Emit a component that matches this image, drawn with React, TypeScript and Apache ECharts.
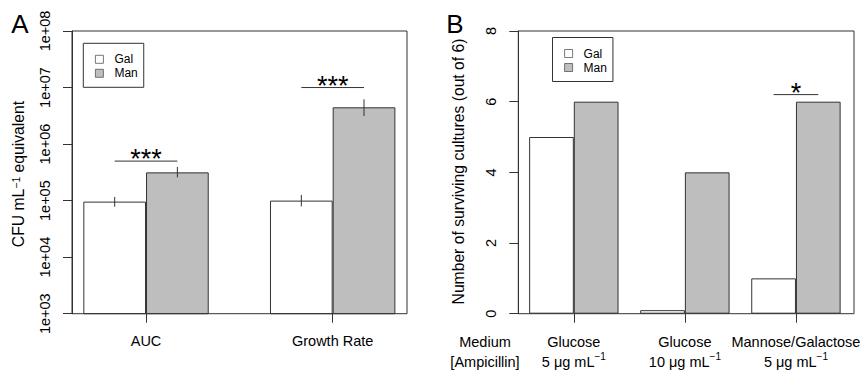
import React, { useEffect, useRef } from 'react';
import * as echarts from 'echarts';

// ---------- Data: panel A ----------
const metricsA = ['AUC', 'Growth Rate'];
const galA = [9.6e4, 1.0e5];
const manA = [3.16e5, 4.47e6];
const galErrLowA = [7.8e4, 7.9e4];
const galErrHighA = [1.16e5, 1.26e5];
const manErrLowA = [2.58e5, 3.13e6];
const manErrHighA = [3.94e5, 6.18e6];
const yTickLabelsA = ['1e+03', '1e+04', '1e+05', '1e+06', '1e+07', '1e+08'];
const sigCatA = [0, 1];
const sigLevelA = [5.0e5, 1.0e7];
const sigTextA = ['***', '***'];

// ---------- Data: panel B ----------
const mediaB = ['Glucose', 'Glucose', 'Mannose/Galactose'];
const doseB = ['5', '10', '5'];
const galB = [5, 0.1, 1];
const manB = [6, 4, 6];
const yTicksB = [0, 2, 4, 6, 8];
const sigCatB = [2];
const sigLevelB = [6.2];
const sigTextB = ['*'];

const seriesNames = ['Gal', 'Man'];

// ---------- Styles / layout ----------
const FONT = "'Liberation Sans', Arial, Helvetica, sans-serif";
const INK = '#333';
const GRAY = '#bebebe';
const BAR_W_A = 62.7;
const BAR_W_B = 44.7;
const TOP = 31;
const BOTTOM_Y = 313.7;
const PLOT_H = BOTTOM_Y - TOP;
const TITLE_FS = 15.7;

export default function App() {
  const ref = useRef<HTMLDivElement>(null);

  useEffect(() => {
    document.body.style.margin = '0';
    const chart = echarts.init(ref.current!, undefined, { renderer: 'svg' });

    const errA = (vals: number[], lo: number[], hi: number[], sign: number) =>
      vals.map((_, i) => [i, lo[i], hi[i], sign]);

    const sigRender = (barW: number, texts: string[]) => (params: any, api: any) => {
      const p = api.coord([api.value(0), api.value(1)]);
      const half = barW / 2;
      return {
        type: 'group',
        children: [
          {
            type: 'line',
            shape: { x1: p[0] - half, y1: p[1], x2: p[0] + half, y2: p[1] },
            style: { stroke: INK, lineWidth: 1 },
          },
          {
            type: 'text',
            x: p[0],
            y: p[1] - 2,
            style: {
              text: texts[params.dataIndex],
              fontSize: 27,
              fontFamily: FONT,
              fill: '#000',
              align: 'center',
              verticalAlign: 'middle',
              textAlign: 'center',
              textVerticalAlign: 'middle',
            },
          },
        ],
      };
    };

    const errRender = (barW: number) => (params: any, api: any) => {
      const c = api.value(0);
      const lo = api.coord([c, api.value(1)]);
      const hi = api.coord([c, api.value(2)]);
      const x = lo[0] + api.value(3) * (barW / 2);
      return {
        type: 'line',
        shape: { x1: x, y1: lo[1], x2: x, y2: hi[1] },
        style: { stroke: INK, lineWidth: 1 },
      };
    };

    const supRich = {
      sup: { fontSize: 10, fontFamily: FONT, color: '#000', verticalAlign: 'top', lineHeight: 8 },
    };

    const legendCommon = {
      orient: 'vertical',
      data: seriesNames,
      icon: 'rect',
      itemWidth: 8,
      itemHeight: 8,
      itemGap: 0,
      borderColor: INK,
      borderWidth: 1,
      borderRadius: 0,
      padding: [9, 6, 7, 11.7],
      selectedMode: false,
      itemStyle: { borderColor: '#555', borderWidth: 0.8 },
      textStyle: { fontSize: 12, fontFamily: FONT, color: '#000', lineHeight: 14, padding: [0, 0, 0, 6] },
    };

    const option: any = {
      animation: false,
      backgroundColor: '#fff',
      textStyle: { fontFamily: FONT },
      legend: [
        { ...legendCommon, left: 83.3, top: 43.3 },
        { ...legendCommon, left: 552.5, top: 37.5 },
      ],
      grid: [
        { left: 52.7, top: TOP, width: 373.3, height: PLOT_H },
        { left: 518.3, top: TOP, width: 335.7, height: PLOT_H },
      ],
      xAxis: [
        {
          type: 'category',
          gridIndex: 0,
          data: metricsA,
          axisLine: { show: false },
          axisTick: { show: true, alignWithLabel: true, length: 9, lineStyle: { color: INK } },
          axisLabel: { fontSize: 14.5, fontFamily: FONT, color: '#000', margin: 20, interval: 0 },
        },
        {
          type: 'category',
          gridIndex: 1,
          data: mediaB.map((m, i) => `${m}\n${doseB[i]} μg mL{sup|−1}`),
          axisLine: { show: false },
          axisTick: { show: true, alignWithLabel: true, length: 9, lineStyle: { color: INK } },
          axisLabel: {
            fontSize: 14.5,
            fontFamily: FONT,
            color: '#000',
            margin: 18,
            interval: 0,
            lineHeight: 20,
            rich: supRich,
          },
        },
      ],
      yAxis: [
        {
          type: 'log',
          logBase: 10,
          gridIndex: 0,
          min: 1e3,
          max: 1e8,
          offset: 52.7 - 72,
          splitLine: { show: false },
          axisLine: { show: true, lineStyle: { color: INK } },
          axisTick: { show: true, length: 9, lineStyle: { color: INK } },
          axisLabel: {
            rotate: 90,
            margin: 20,
            fontSize: 14.5,
            fontFamily: FONT,
            color: '#000',
            formatter: (v: number) => yTickLabelsA[Math.round(Math.log10(v)) - 3] ?? '',
          },
        },
        {
          type: 'value',
          gridIndex: 1,
          min: yTicksB[0],
          max: yTicksB[yTicksB.length - 1],
          interval: 2,
          splitLine: { show: false },
          axisLine: { show: true, lineStyle: { color: INK } },
          axisTick: { show: true, length: 9, lineStyle: { color: INK } },
          axisLabel: { rotate: 90, margin: 20, fontSize: 14.5, fontFamily: FONT, color: '#000' },
        },
      ],
      series: [
        {
          name: 'Gal', type: 'bar', xAxisIndex: 0, yAxisIndex: 0, data: galA,
          barWidth: BAR_W_A, barGap: '0%',
          itemStyle: { color: '#fff', borderColor: INK, borderWidth: 1 },
        },
        {
          name: 'Man', type: 'bar', xAxisIndex: 0, yAxisIndex: 0, data: manA,
          barWidth: BAR_W_A, barGap: '0%',
          itemStyle: { color: GRAY, borderColor: INK, borderWidth: 1 },
        },
        {
          name: 'Gal', type: 'bar', xAxisIndex: 1, yAxisIndex: 1, data: galB,
          barWidth: BAR_W_B, barGap: '0%',
          itemStyle: { color: '#fff', borderColor: INK, borderWidth: 1 },
        },
        {
          name: 'Man', type: 'bar', xAxisIndex: 1, yAxisIndex: 1, data: manB,
          barWidth: BAR_W_B, barGap: '0%',
          itemStyle: { color: GRAY, borderColor: INK, borderWidth: 1 },
        },
        {
          type: 'custom', name: 'errA', xAxisIndex: 0, yAxisIndex: 0,
          renderItem: errRender(BAR_W_A),
          encode: { x: 0, y: [1, 2] },
          data: [...errA(galA, galErrLowA, galErrHighA, -1), ...errA(manA, manErrLowA, manErrHighA, 1)],
          z: 5,
        },
        {
          type: 'custom', name: 'sigA', xAxisIndex: 0, yAxisIndex: 0,
          renderItem: sigRender(BAR_W_A, sigTextA),
          encode: { x: 0, y: 1 },
          data: sigCatA.map((c, i) => [c, sigLevelA[i]]),
          z: 5,
        },
        {
          type: 'custom', name: 'sigB', xAxisIndex: 1, yAxisIndex: 1,
          renderItem: sigRender(BAR_W_B, sigTextB),
          encode: { x: 0, y: 1 },
          data: sigCatB.map((c, i) => [c, sigLevelB[i]]),
          z: 5,
        },
      ],
      graphic: [
        {
          type: 'rect', shape: { x: 72, y: TOP, width: 407 - 72, height: PLOT_H },
          style: { fill: 'none', stroke: INK, lineWidth: 1 }, z: 10,
        },
        {
          type: 'rect', shape: { x: 518.3, y: TOP, width: 854 - 518.3, height: PLOT_H },
          style: { fill: 'none', stroke: INK, lineWidth: 1 }, z: 10,
        },
        {
          type: 'text', x: 20, y: 24,
          style: { text: 'A', fontSize: 26, fontFamily: FONT, fill: '#000', textAlign: 'center', textVerticalAlign: 'middle', align: 'center', verticalAlign: 'middle' },
        },
        {
          type: 'text', x: 455, y: 24,
          style: { text: 'B', fontSize: 26, fontFamily: FONT, fill: '#000', textAlign: 'center', textVerticalAlign: 'middle', align: 'center', verticalAlign: 'middle' },
        },
        {
          type: 'text', x: 18.5, y: 174, rotation: Math.PI / 2,
          style: {
            text: 'CFU mL{sup|−1} equivalent',
            fontSize: TITLE_FS, fontFamily: FONT, fill: '#000', lineHeight: 17,
            rich: { sup: { fontSize: 10.5, fontFamily: FONT, fill: '#000', verticalAlign: 'top', lineHeight: 8 } },
            textAlign: 'center', textVerticalAlign: 'middle', align: 'center', verticalAlign: 'middle',
          },
        },
        {
          type: 'text', x: 458.5, y: 171.5, rotation: Math.PI / 2,
          style: {
            text: 'Number of surviving cultures (out of 6)',
            fontSize: TITLE_FS, fontFamily: FONT, fill: '#000',
            textAlign: 'center', textVerticalAlign: 'middle', align: 'center', verticalAlign: 'middle',
          },
        },
        {
          type: 'text', x: 485, y: 331.7,
          style: {
            text: 'Medium\n[Ampicillin]',
            fontSize: 14.5, fontFamily: FONT, fill: '#000', lineHeight: 20,
            textAlign: 'center', textVerticalAlign: 'top', align: 'center', verticalAlign: 'top',
          },
        },
      ],
    };

    chart.setOption(option);
    return () => chart.dispose();
  }, []);

  return <div ref={ref} style={{ width: 863, height: 373 }} />;
}
